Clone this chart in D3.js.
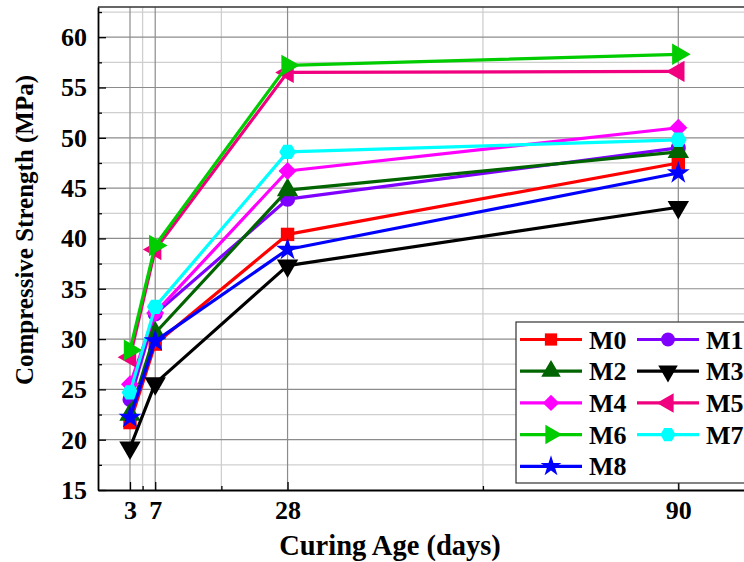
<!DOCTYPE html>
<html><head><meta charset="utf-8">
<script src="https://cdn.jsdelivr.net/npm/d3@7"></script>
<style>body{margin:0;background:#fff}svg{display:block}text{font-family:"Liberation Serif","Times New Roman",serif;font-weight:bold}</style>
</head><body><div id="chart"></div>
<script>
const days = [3, 7, 28, 90];
const seriesNames = ["M0","M1","M2","M3","M4","M5","M6","M7","M8"];
const M0 = [21.7, 29.5, 40.4, 47.5];
const M1 = [24.0, 32.5, 43.9, 49.0];
const M2 = [22.5, 30.6, 44.8, 48.6];
const M3 = [19.2, 25.6, 37.3, 43.1];
const M4 = [25.5, 32.6, 46.7, 51.0];
const M5 = [28.2, 38.9, 56.5, 56.6];
const M6 = [28.9, 39.3, 57.2, 58.3];
const M7 = [24.7, 33.2, 48.6, 49.8];
const M8 = [22.2, 29.8, 38.9, 46.5];
const values = [M0, M1, M2, M3, M4, M5, M6, M7, M8];
const colors = ["#ff0000","#7f00ff","#006400","#000000","#ff00ff","#f0007f","#00cc00","#00ffff","#0000ff"];
const shapes = ["square","circle","triUp","triDown","diamond","triLeft","triRight","hexagon","star"];
const xTicks = [3, 7, 28, 90];
const xMinor = [5, 17.5, 59];
const yTicks = [15, 20, 25, 30, 35, 40, 45, 50, 55, 60];
const yMinor = [17.5, 22.5, 27.5, 32.5, 37.5, 42.5, 47.5, 52.5, 57.5, 62.5];

const W = 744, H = 562;
const L = 98, T = 7, B = 490, R = 760;
const x = d3.scaleLinear().domain([3, 90]).range([130, 678.3]);
x.domain([x.invert(L), x.invert(R)]).range([L, R]);
const y = d3.scaleLinear().domain([15, 63]).range([B, T]);

const svg = d3.select("#chart").append("svg").attr("width", W).attr("height", H);
const FF = '"Liberation Serif","Times New Roman",serif';

// grid
const g = svg.append("g");
g.selectAll(".vmin").data(xMinor).enter().append("line")
  .attr("x1", d => x(d)).attr("x2", d => x(d)).attr("y1", T).attr("y2", B)
  .attr("stroke", "#cfcfcf").attr("stroke-width", 1.3);
g.selectAll(".hmin").data(yMinor).enter().append("line")
  .attr("x1", L).attr("x2", R).attr("y1", d => y(d)).attr("y2", d => y(d))
  .attr("stroke", "#cfcfcf").attr("stroke-width", 1.3);
g.selectAll(".vmaj").data(xTicks).enter().append("line")
  .attr("x1", d => x(d)).attr("x2", d => x(d)).attr("y1", T).attr("y2", B)
  .attr("stroke", "#8c8c8c").attr("stroke-width", 1.2);
g.selectAll(".hmaj").data(yTicks.slice(1)).enter().append("line")
  .attr("x1", L).attr("x2", R).attr("y1", d => y(d)).attr("y2", d => y(d))
  .attr("stroke", "#8c8c8c").attr("stroke-width", 1.2);
svg.append("line").attr("x1", L).attr("x2", R).attr("y1", T).attr("y2", T)
  .attr("stroke", "#333").attr("stroke-width", 1.3);

function symPath(shape, s) {
  const tri = d3.symbol().type(d3.symbolTriangle).size(s * 1.1)();
  switch (shape) {
    case "square": return {d: d3.symbol().type(d3.symbolSquare).size(s)(), r: 0};
    case "circle": return {d: d3.symbol().type(d3.symbolCircle).size(s)(), r: 0};
    case "triUp": return {d: tri, r: 0};
    case "triDown": return {d: tri, r: 180};
    case "triLeft": return {d: tri, r: -90};
    case "triRight": return {d: tri, r: 90};
    case "diamond": return {d: d3.symbol().type(d3.symbolSquare).size(s * 0.9)(), r: 45};
    case "star": return {d: d3.symbol().type(d3.symbolStar).size(s * 0.9)(), r: 0};
    case "hexagon": {
      const rr = Math.sqrt(s / 2.6);
      const pts = d3.range(6).map(i => [rr * Math.cos(Math.PI / 3 * i), rr * Math.sin(Math.PI / 3 * i)]);
      return {d: "M" + pts.join("L") + "Z", r: 0};
    }
  }
}

const line = d3.line().x((d, i) => x(days[i])).y(d => y(d));
const series = svg.append("g");
values.forEach((vals, k) => {
  const sg = series.append("g");
  sg.append("path").attr("d", line(vals)).attr("fill", "none")
    .attr("stroke", colors[k]).attr("stroke-width", 3.2).attr("stroke-linejoin", "round");
  const sp = symPath(shapes[k], 180);
  sg.selectAll("path.m").data(vals).enter().append("path").attr("class", "m")
    .attr("d", sp.d)
    .attr("transform", (d, i) => `translate(${x(days[i])},${y(d)}) rotate(${sp.r})`)
    .attr("fill", colors[k]);
});

const xAxis = svg.append("g").attr("transform", `translate(0,${B})`)
  .call(d3.axisBottom(x).tickValues(xTicks).tickSizeInner(-8).tickSizeOuter(0).tickPadding(11).tickFormat(d3.format("d")));
svg.append("g").attr("transform", `translate(0,${B})`)
  .call(d3.axisBottom(x).tickValues(xMinor).tickSizeInner(-4).tickSizeOuter(0).tickFormat(""))
  .select(".domain").remove();
const yAxis = svg.append("g").attr("transform", `translate(${L},0)`)
  .call(d3.axisLeft(y).tickValues(yTicks).tickSizeInner(-8).tickSizeOuter(0).tickPadding(11));
svg.append("g").attr("transform", `translate(${L},0)`)
  .call(d3.axisLeft(y).tickValues(yMinor).tickSizeInner(-4).tickSizeOuter(0).tickFormat(""))
  .select(".domain").remove();
svg.selectAll(".domain").attr("stroke", "#000").attr("stroke-width", 1.8);
svg.selectAll(".tick line").attr("stroke", "#000").attr("stroke-width", 1.3);
[xAxis, yAxis].forEach(a => a.selectAll("text").attr("font-size", 26).attr("fill", "#000")
  .style("font-family", FF).style("font-weight", "bold"));

svg.append("text").attr("x", 390).attr("y", 555).attr("text-anchor", "middle")
  .attr("font-size", 28.5).text("Curing Age (days)");
svg.append("text").attr("transform", "translate(33,230) rotate(-90)").attr("text-anchor", "middle")
  .attr("font-size", 25).text("Compressive Strength (MPa)");

const lg = svg.append("g");
lg.append("rect").attr("x", 516).attr("y", 322).attr("width", 260).attr("height", 161)
  .attr("fill", "#fff").attr("stroke", "#333").attr("stroke-width", 1.2);
seriesNames.forEach((n, k) => {
  const col = k % 2, row = Math.floor(k / 2);
  const x0 = col === 0 ? 520 : 637;
  const yy = 339.5 + row * 31.7;
  const it = lg.append("g");
  it.append("line").attr("x1", x0).attr("x2", x0 + 62).attr("y1", yy).attr("y2", yy)
    .attr("stroke", colors[k]).attr("stroke-width", 3.2);
  const sp = symPath(shapes[k], 150);
  it.append("path").attr("d", sp.d).attr("fill", colors[k])
    .attr("transform", `translate(${x0 + 31},${yy}) rotate(${sp.r})`);
  it.append("text").attr("x", x0 + 69).attr("y", yy).attr("dy", "0.35em")
    .attr("font-size", 26).attr("fill", "#000").text(n);
});
</script></body></html>
